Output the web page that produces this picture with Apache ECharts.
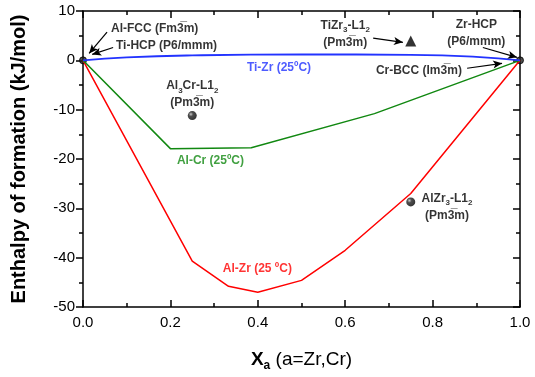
<!DOCTYPE html>
<html>
<head>
<meta charset="utf-8">
<script src="https://cdn.jsdelivr.net/npm/echarts@6/dist/echarts.min.js"></script>
<style>
html,body{margin:0;padding:0;background:#fff;}
#main{width:535px;height:377px;}
</style>
</head>
<body>
<div id="main"></div>
<script>
// composition and enthalpy values
var xAlZr = [0, 0.25, 0.333, 0.4, 0.5, 0.6, 0.75, 1.0];
var yAlZr = [0, -40.7, -45.8, -47.0, -44.6, -38.5, -27.0, 0];
var xAlCr = [0, 0.2, 0.385, 0.667, 1.0];
var yAlCr = [0, -17.9, -17.7, -10.8, 0];
var xTiZr = [0, 0.1, 0.25, 0.5, 0.75, 0.9, 1.0];
var yTiZr = [0, 0.6, 1.0, 1.2, 1.1, 0.7, 0];
var xPure = [0, 1.0];
var yPure = [0, 0];
var xL12 = [0.25, 0.75];
var yL12 = [-11.2, -28.7];
var xTri = [0.75];
var yTri = [3.9];
var xTicks = ['0.0', '0.2', '0.4', '0.6', '0.8', '1.0'];

var ff = '"Liberation Sans", Arial, sans-serif';
var bar3 = '3\u0305';

// annotation labels: [x, y, text, align]
var notes = [
	[0.064, 6.5, '{b|Al-FCC (Fm' + bar3 + 'm)}', 'left'],
	[0.0755, 3.0, '{b|Ti-HCP (P6/mmm)}', 'left'],
	[0.375, -1.5, '{bl|Ti-Zr (25ºC)}', 'left'],
	[0.25, -6.9, '{b|Al}{s|3}{b|Cr-L1}{s|2}\n{b|(Pm' + bar3 + 'm)}', 'center'],
	[0.6, 5.3, '{b|TiZr}{s|3}{b|-L1}{s|2}\n{b|(Pm' + bar3 + 'm)}', 'center'],
	[0.9, 5.6, '{b|Zr-HCP}\n{b|(P6/mmm)}', 'center'],
	[0.867, -2.0, '{b|Cr-BCC (Im' + bar3 + 'm)}', 'right'],
	[0.215, -20.3, '{gr|Al-Cr (25ºC)}', 'left'],
	[0.32, -42.2, '{rd|Al-Zr (25 ºC)}', 'left'],
	[0.833, -29.7, '{b|AlZr}{s|3}{b|-L1}{s|2}\n{b|(Pm' + bar3 + 'm)}', 'center']
];
// arrows: from -> to
var arrows = [
	[[0.055, 5.7], [0.014, 1.4]],
	[[0.069, 2.6], [0.021, 1.2]],
	[[0.664, 4.5], [0.732, 3.65]],
	[[0.915, 2.6], [0.993, 0.6]],
	[[0.879, -1.6], [0.959, -0.6]]
];

function pairs(xs, ys) {
	return xs.map(function (x, i) { return [x, ys[i]]; });
}

var rich = {
	b: {fontFamily: ff, fontWeight: 'bold', fontSize: 12, color: '#000', lineHeight: 17},
	s: {fontFamily: ff, fontWeight: 'bold', fontSize: 8, color: '#000', lineHeight: 10, verticalAlign: 'bottom'},
	bl: {fontFamily: ff, fontWeight: 'bold', fontSize: 12, color: '#2233ff'},
	gr: {fontFamily: ff, fontWeight: 'bold', fontSize: 12, color: '#118811'},
	rd: {fontFamily: ff, fontWeight: 'bold', fontSize: 12, color: '#ff0000'}
};

var axisLine = {show: true, onZero: false, lineStyle: {color: '#000', width: 1.5}};
function tick(inside) {
	return {show: true, inside: inside, length: 7, lineStyle: {color: '#000', width: 1.5}};
}
var minor = {show: true, splitNumber: 2, length: 4, lineStyle: {color: '#000', width: 1.5}};

var myChart = echarts.init(document.getElementById('main'));
var option = {
	backgroundColor: '#fff',
	animation: false,
	grid: {left: 83, right: 15, top: 11, bottom: 70},
	xAxis: [{
		type: 'value', min: 0, max: 1, interval: 0.2,
		axisLine: axisLine, axisTick: tick(true), minorTick: minor,
		splitLine: {show: false},
		axisLabel: {
			fontFamily: ff, fontSize: 15, color: '#000', margin: 8,
			formatter: function (v) { return xTicks[Math.round(v / 0.2)]; }
		},
		name: '{x|X}{xs|a}{n| (a=Zr,Cr)}',
		nameLocation: 'middle', nameGap: 41,
		nameTextStyle: {
			rich: {
				x: {fontFamily: ff, fontWeight: 'bold', fontSize: 19, color: '#000', lineHeight: 24},
				xs: {fontFamily: ff, fontWeight: 'bold', fontSize: 12, color: '#000', lineHeight: 12, verticalAlign: 'bottom'},
				n: {fontFamily: ff, fontSize: 19, color: '#000', lineHeight: 24}
			}
		}
	}, {
		type: 'value', position: 'top', min: 0, max: 1, interval: 0.2,
		axisLine: axisLine, axisTick: tick(true), minorTick: minor,
		splitLine: {show: false}, axisLabel: {show: false}
	}],
	yAxis: [{
		type: 'value', min: -50, max: 10, interval: 10,
		axisLine: axisLine, axisTick: tick(false), minorTick: minor,
		splitLine: {show: false},
		axisLabel: {fontFamily: ff, fontSize: 15, color: '#000', margin: 8},
		name: 'Enthalpy of formation (kJ/mol)',
		nameLocation: 'middle', nameGap: 54,
		nameTextStyle: {fontFamily: ff, fontWeight: 'bold', fontSize: 20, color: '#000'}
	}, {
		type: 'value', position: 'right', min: -50, max: 10, interval: 10,
		axisLine: axisLine, axisTick: tick(true), minorTick: minor,
		splitLine: {show: false}, axisLabel: {show: false}
	}],
	series: [{
		name: 'Al-Zr', type: 'line', data: pairs(xAlZr, yAlZr),
		showSymbol: false, lineStyle: {color: '#ff0000', width: 1.5}
	}, {
		name: 'Al-Cr', type: 'line', data: pairs(xAlCr, yAlCr),
		showSymbol: false, lineStyle: {color: '#118811', width: 1.5}
	}, {
		name: 'Ti-Zr', type: 'line', data: pairs(xTiZr, yTiZr), smooth: true,
		showSymbol: false, lineStyle: {color: '#2233ff', width: 1.8}
	}, {
		type: 'scatter', data: pairs(xPure, yPure), symbolSize: 7,
		itemStyle: {color: '#222', borderColor: '#000', borderWidth: 1}
	}, {
		type: 'scatter', data: pairs(xL12, yL12), symbolSize: 9,
		itemStyle: {
			color: {type: 'radial', x: 0.35, y: 0.35, r: 0.7,
				colorStops: [{offset: 0, color: '#bbb'}, {offset: 0.35, color: '#222'}, {offset: 1, color: '#000'}]}
		}
	}, {
		type: 'scatter', data: pairs(xTri, yTri), symbol: 'triangle', symbolSize: 11,
		itemStyle: {color: '#000'}
	}, {
		type: 'scatter', symbolSize: 0, silent: true, z: 5,
		data: notes.map(function (n) {
			return {
				value: [n[0], n[1]],
				label: {show: true, position: 'inside', align: n[3], verticalAlign: 'middle',
					formatter: n[2], rich: rich, lineHeight: 17}
			};
		}),
		markLine: {
			silent: true, symbol: ['none', 'arrow'], symbolSize: [6, 9],
			lineStyle: {color: '#000', width: 1.2, type: 'solid'},
			label: {show: false},
			data: arrows.map(function (a) { return [{coord: a[0]}, {coord: a[1]}]; })
		}
	}]
};
myChart.setOption(option);
</script>
</body>
</html>
